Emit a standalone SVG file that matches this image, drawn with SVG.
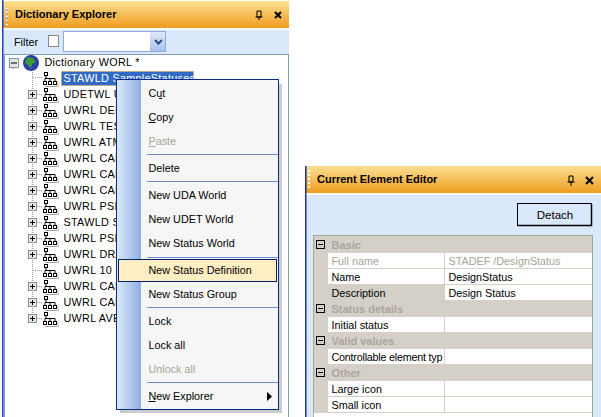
<svg xmlns="http://www.w3.org/2000/svg" width="601" height="417" viewBox="0 0 601 417">
<defs>
<linearGradient id="title" x1="0" y1="0" x2="0" y2="1"><stop offset="0" stop-color="#fbe093"/><stop offset="1" stop-color="#f09c1e"/></linearGradient>
<linearGradient id="side" x1="0" y1="0" x2="1" y2="0"><stop offset="0" stop-color="#dbe9fc"/><stop offset="1" stop-color="#8eafe0"/></linearGradient>
<linearGradient id="btn" x1="0" y1="0" x2="0" y2="1"><stop offset="0" stop-color="#dfe9fb"/><stop offset="1" stop-color="#a9c2ee"/></linearGradient>
<g id="tree"><path d="M2 14.500H15M15 10V15" stroke="#aaa" fill="none"/><g fill="#fff" stroke="#000"><rect x="1.500" y="0.500" width="3" height="3"/><rect x="0.500" y="9.500" width="3" height="3"/><rect x="5.500" y="9.500" width="3" height="3"/><rect x="10.500" y="9.500" width="3" height="3"/><path d="M3 4V7M2 9.500V6.500H12V9.500M7 7V9.500" fill="none"/></g></g>
<g id="plus"><rect x="0.500" y="0.500" width="8" height="8" fill="#e6e6dc" stroke="#7a98b4"/><path d="M2 4.500H7M4.500 2V7" stroke="#000"/></g>
</defs>
<style>
text{font-family:"Liberation Sans",Arial,sans-serif;font-size:10.800px;fill:#000}
.t{font-weight:bold;font-size:11px}
.g{fill:#a8a498}
.h{font-weight:bold;fill:#aaa69a;font-size:11px}
.d{fill:none;stroke:#999;stroke-dasharray:1 1}
.s{stroke:#6d8fd0;stroke-width:1}
.m{fill:none;stroke:#000;stroke-width:1}
.r{letter-spacing:0.300px}
</style>
<rect width="601" height="417" fill="#fff"/>
<g id="explorer">
<rect x="3" y="30" width="286" height="387" fill="#dae8fb"/>
<rect x="3" y="1" width="286" height="27" fill="url(#title)"/>
<rect x="2" y="0" width="1.500" height="417" fill="#1a3fbe"/>
<path d="M7 8V26" stroke="#fff" stroke-width="2" stroke-dasharray="2 2"/>
<path d="M7 9V26" stroke="#2d3c80" stroke-width="1" stroke-dasharray="1 3"/>
<text class="t" x="15" y="18">Dictionary Explorer</text>
<path d="M257 11h4v6h-4zM259 17v3M255.500 17h7" fill="none" stroke="#000"/>
<path d="M275 12l6 6M281 12l-6 6" stroke="#000" stroke-width="2"/>
<text x="14" y="46">Filter</text>
<rect x="48.500" y="35.500" width="10" height="11" fill="#fff" stroke="#8a8a80"/>
<rect x="63.500" y="31.500" width="102" height="20" fill="#fff" stroke="#8ea8d8"/>
<rect x="150" y="32" width="15" height="19" fill="url(#btn)"/>
<path d="M155 40l3.500 3.500 3.500-3.500" fill="none" stroke="#2a4a80" stroke-width="2"/>
<rect x="4.500" y="54.500" width="284" height="363" fill="#fff" stroke="#7f9db9"/>
<path class="d" d="M13.500 68V69M32.500 72V318M33 77.500H43M37 94.500H43M37 110.500H43M37 126.500H43M37 142.500H43M37 158.500H43M37 174.500H43M37 190.500H43M37 206.500H43M37 222.500H43M37 238.500H43M37 254.500H43M33 270.500H43M37 286.500H43M37 302.500H43M37 318.500H43"/>
<rect x="9.500" y="58.500" width="9" height="9" fill="#e6e6dc" stroke="#7a98b4"/><path d="M11 63H17" stroke="#000"/>
<circle cx="31" cy="63" r="8" fill="#2a3fa8"/><path d="M27 57l6 1 3 4-4 2-1 5-3-4-3-2z" fill="#3e9a38"/>
<text class="r" x="44.500" y="66">Dictionary WORL *</text>
<rect x="61.500" y="71.500" width="132" height="14" fill="#316ac5" stroke="#e0a030" stroke-dasharray="1 1"/>
<text class="r" x="63.500" y="82" style="fill:#fff">STAWLD SampleStatuses</text>
<use href="#tree" x="43" y="72"/>
<g id="rows">
<use href="#plus" x="28" y="90"/><use href="#tree" x="43" y="88"/><text class="r" x="63.500" y="98">UDETWL U</text>
<use href="#plus" x="28" y="106"/><use href="#tree" x="43" y="104"/><text class="r" x="63.500" y="114">UWRL DEN</text>
<use href="#plus" x="28" y="122"/><use href="#tree" x="43" y="120"/><text class="r" x="63.500" y="130">UWRL TES</text>
<use href="#plus" x="28" y="138"/><use href="#tree" x="43" y="136"/><text class="r" x="63.500" y="146">UWRL ATM</text>
<use href="#plus" x="28" y="154"/><use href="#tree" x="43" y="152"/><text class="r" x="63.500" y="162">UWRL CAD</text>
<use href="#plus" x="28" y="170"/><use href="#tree" x="43" y="168"/><text class="r" x="63.500" y="178">UWRL CAD</text>
<use href="#plus" x="28" y="186"/><use href="#tree" x="43" y="184"/><text class="r" x="63.500" y="194">UWRL CAD</text>
<use href="#plus" x="28" y="202"/><use href="#tree" x="43" y="200"/><text class="r" x="63.500" y="210">UWRL PSI</text>
<use href="#plus" x="28" y="218"/><use href="#tree" x="43" y="216"/><text class="r" x="63.500" y="226">STAWLD S</text>
<use href="#plus" x="28" y="234"/><use href="#tree" x="43" y="232"/><text class="r" x="63.500" y="242">UWRL PSI</text>
<use href="#plus" x="28" y="250"/><use href="#tree" x="43" y="248"/><text class="r" x="63.500" y="258">UWRL DRA</text>
<use href="#tree" x="43" y="264"/><text class="r" x="63.500" y="274">UWRL 10</text>
<use href="#plus" x="28" y="282"/><use href="#tree" x="43" y="280"/><text class="r" x="63.500" y="290">UWRL CAD</text>
<use href="#plus" x="28" y="298"/><use href="#tree" x="43" y="296"/><text class="r" x="63.500" y="306">UWRL CAD</text>
<use href="#plus" x="28" y="314"/><use href="#tree" x="43" y="312"/><text class="r" x="63.500" y="322">UWRL AVE</text>
</g>
</g>
<g id="menu">
<rect x="120" y="84" width="162" height="329" fill="#000" opacity="0.2"/>
<rect x="116.500" y="79.500" width="162" height="330" fill="#f6f6f6" stroke="#0a2a8c"/>
<rect x="117" y="80" width="24" height="329" fill="url(#side)"/>
<text x="148.500" y="97">Cut</text><path class="m" d="M159 98.500h3"/>
<text x="148.500" y="121">Copy</text><path class="m" d="M148.500 122.500h7"/>
<text x="148.500" y="145" class="g">Paste</text><path d="M148.500 146.500h7" stroke="#a8a498"/>
<path class="s" d="M147 154.500H278M147 181.500H278M147 257.500H278M147 307.500H278M147 382.500H278"/>
<text x="148.500" y="172">Delete</text>
<text x="148.500" y="199">New UDA World</text>
<text x="148.500" y="223">New UDET World</text>
<text x="148.500" y="247">New Status World</text>
<rect x="118.500" y="259.500" width="158" height="22" fill="#ffeec2" stroke="#0a2068"/>
<text x="148.500" y="274">New Status Definition</text>
<text x="148.500" y="298">New Status Group</text>
<text x="148.500" y="325">Lock</text>
<text x="148.500" y="349">Lock all</text>
<text x="148.500" y="373" class="g">Unlock all</text>
<text x="148.500" y="400">New Explorer</text><path class="m" d="M148.500 401.500h7"/>
<path d="M267 392l5 4.500-5 4.500z" fill="#000"/>
</g>
<g id="editor">
<rect x="305" y="195" width="296" height="222" fill="#dae8fb"/>
<rect x="305" y="166" width="296" height="27" fill="url(#title)"/>
<rect x="305" y="166" width="1.500" height="251" fill="#1a2f9e"/>
<path d="M309 170V188" stroke="#fff" stroke-width="2" stroke-dasharray="2 2"/>
<text class="t" x="317" y="183">Current Element Editor</text>
<path d="M569 176h4v6h-4zM571 182v4M567.500 182h7" fill="none" stroke="#000"/>
<path d="M586 177l7 7M593 177l-7 7" stroke="#000" stroke-width="2"/>
<rect x="517.500" y="203.500" width="74" height="22" fill="#dae8fb" stroke="#000"/>
<path d="M518 225.500H591.500V204" fill="none" stroke="#000" stroke-width="1.500"/>
<text x="555" y="219" text-anchor="middle" style="font-size:11.500px">Detach</text>
<rect x="313.500" y="235.500" width="279" height="181.500" fill="#d4d0c8" stroke="#aaa69e"/>
<g fill="#fff">
<rect x="328" y="253" width="116" height="15"/><rect x="445" y="253" width="147" height="15"/>
<rect x="328" y="269" width="116" height="15"/><rect x="445" y="269" width="147" height="15"/>
<rect x="445" y="285" width="147" height="15"/>
<rect x="328" y="317" width="116" height="15"/><rect x="445" y="317" width="147" height="15"/>
<rect x="328" y="349" width="116" height="15"/><rect x="445" y="349" width="147" height="15"/>
<rect x="328" y="381" width="116" height="15"/><rect x="445" y="381" width="147" height="15"/>
<rect x="328" y="397" width="116" height="15"/><rect x="445" y="397" width="147" height="15"/>
<rect x="314" y="413" width="278" height="4"/>
</g>
<g fill="none" stroke="#000">
<rect x="316.500" y="240.500" width="8" height="8"/><path d="M318 244.500h5"/>
<rect x="316.500" y="304.500" width="8" height="8"/><path d="M318 308.500h5"/>
<rect x="316.500" y="336.500" width="8" height="8"/><path d="M318 340.500h5"/>
<rect x="316.500" y="368.500" width="8" height="8"/><path d="M318 372.500h5"/>
</g>
<text class="h" x="331.500" y="249">Basic</text>
<text x="331.500" y="265" class="g">Full name</text><text x="448.500" y="265" class="g">STADEF /DesignStatus</text>
<text x="331.500" y="281">Name</text><text x="448.500" y="281">DesignStatus</text>
<text x="331.500" y="297">Description</text><text x="448.500" y="297">Design Status</text>
<text class="h" x="331.500" y="313">Status details</text>
<text x="331.500" y="329">Initial status</text>
<text class="h" x="331.500" y="345">Valid values</text>
<text x="331.500" y="361" textLength="111" lengthAdjust="spacing">Controllable element typ</text>
<text class="h" x="331.500" y="377">Other</text>
<text x="331.500" y="393">Large icon</text>
<text x="331.500" y="409">Small icon</text>
</g>
</svg>
